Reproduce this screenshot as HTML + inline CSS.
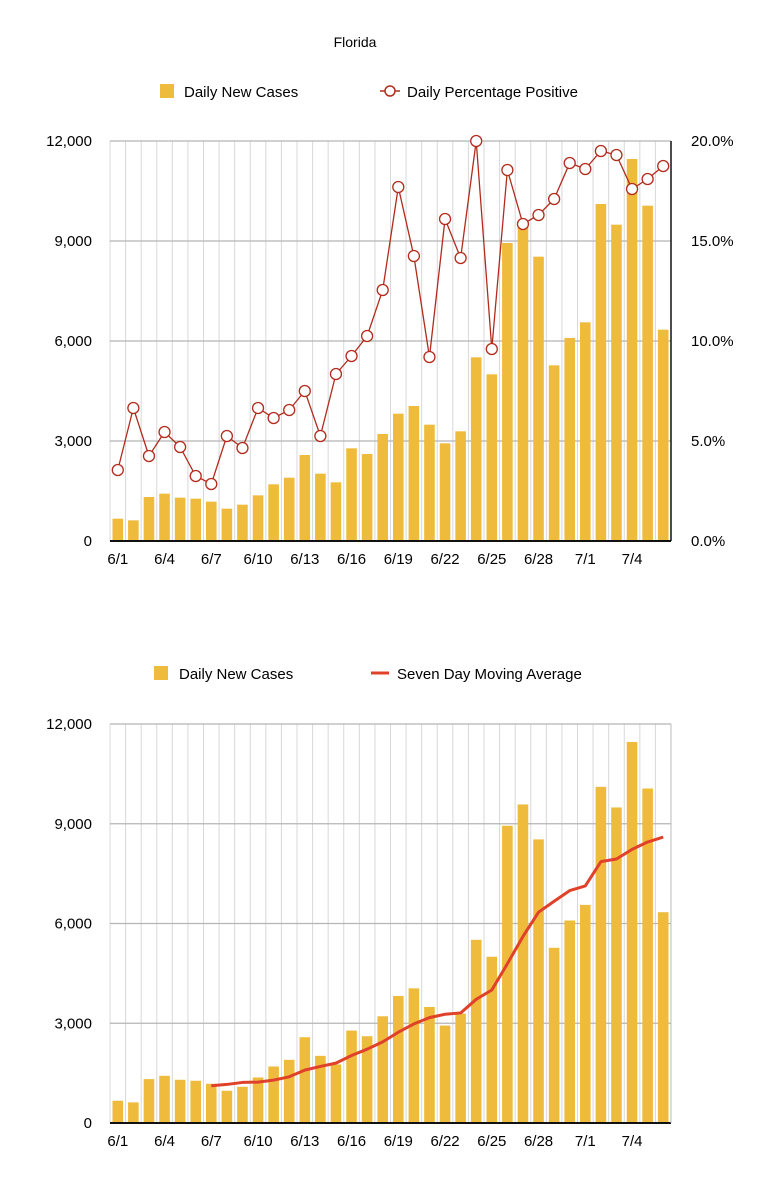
<!DOCTYPE html>
<html><head><meta charset="utf-8"><style>
body{margin:0;background:#fff;}
svg{display:block;font-family:"Liberation Sans",sans-serif;}
</style></head><body>
<svg id="svg" width="769" height="1200" viewBox="0 0 769 1200">
<text x="355" y="47" font-size="14" text-anchor="middle">Florida</text>
<g>
<rect x="160" y="84" width="14" height="14" fill="#efbb3c"/>
<text x="184" y="97" font-size="15">Daily New Cases</text>
<line x1="380" y1="91" x2="400" y2="91" stroke="#b22b1d" stroke-width="1.5"/>
<circle cx="390" cy="91" r="5" fill="#fff" stroke="#b22b1d" stroke-width="1.5"/>
<text x="407" y="97" font-size="15">Daily Percentage Positive</text>
</g>
<g>
<rect x="154" y="666" width="14" height="14" fill="#efbb3c"/>
<text x="179" y="679" font-size="15">Daily New Cases</text>
<line x1="371" y1="673" x2="389" y2="673" stroke="#e0412a" stroke-width="3"/>
<text x="397" y="679" font-size="15">Seven Day Moving Average</text>
</g>
</svg>
<script>
const dates=["6/1","6/2","6/3","6/4","6/5","6/6","6/7","6/8","6/9","6/10","6/11","6/12","6/13","6/14","6/15","6/16","6/17","6/18","6/19","6/20","6/21","6/22","6/23","6/24","6/25","6/26","6/27","6/28","6/29","6/30","7/1","7/2","7/3","7/4","7/5","7/6"];
const cases=[670,620,1320,1420,1300,1270,1180,970,1090,1370,1700,1900,2580,2020,1760,2780,2610,3210,3820,4050,3490,2930,3290,5510,5000,8940,9580,8530,5270,6090,6560,10110,9490,11460,10060,6340];
const positivePct=[3.55,6.65,4.25,5.45,4.7,3.25,2.85,5.25,4.65,6.65,6.15,6.55,7.5,5.25,8.35,9.25,10.25,12.55,17.7,14.25,9.2,16.1,14.15,20,9.6,18.55,15.85,16.3,17.1,18.9,18.6,19.5,19.3,17.6,18.1,18.75];
const avgStart=6;
const movingAvg=[1120,1160,1220,1230,1290,1390,1590,1700,1800,2030,2220,2440,2730,2980,3170,3270,3310,3720,4000,4790,5610,6340,6670,6990,7130,7860,7940,8230,8450,8600];
const leftTicks=[0,3000,6000,9000,12000];
const leftTickLabels=["0","3,000","6,000","9,000","12,000"];
const rightTicks=[0,5,10,15,20];
const rightTickLabels=["0.0%","5.0%","10.0%","15.0%","20.0%"];
const xLabelEvery=3;

const svg=document.getElementById('svg');
const NS="http://www.w3.org/2000/svg";
function mk(tag,attrs,parent){const e=document.createElementNS(NS,tag);for(const k in attrs)e.setAttribute(k,attrs[k]);(parent||svg).appendChild(e);return e;}
const X0=110,X1=671,slot=(X1-X0)/dates.length;
function xC(i){return X0+slot*(i+0.5);}

function chart(top,bottom,withPct,prefix){
  const g=mk('g',{});
  
  
  const yL=v=>bottom-(v/12000)*(bottom-top);
  const yR=v=>bottom-(v/20)*(bottom-top);
  for(let i=0;i<=dates.length;i++){
    const l=mk('line',{x1:X0+slot*i,x2:X0+slot*i,y1:top,y2:bottom,stroke:'#d8d8d8','stroke-width':1},g);
    
    
  }
  leftTicks.forEach((t,i)=>{
    const y=yL(t);
    if(t>0){const l=mk('line',{x1:X0,x2:X1,y1:y,y2:y,stroke:'#b5b5b5','stroke-width':1.2},g);
      
      }
    const tx=mk('text',{x:92,y:y+5,'font-size':15,'text-anchor':'end'},g);tx.textContent=leftTickLabels[i];
    
    
  });
  if(withPct){rightTicks.forEach((t,i)=>{
    const tx=mk('text',{x:691,y:yR(t)+5,'font-size':15},g);tx.textContent=rightTickLabels[i];
    
    
  });}
  cases.forEach((v,i)=>{
    const r=mk('rect',{x:xC(i)-5.3,width:10.6,y:yL(v),height:bottom-yL(v),fill:'#efbb3c'},g);
    
    
  });
  const ax=mk('line',{x1:X0,x2:X1,y1:bottom,y2:bottom,stroke:'#111','stroke-width':2},g);
  
  
  const ra=mk('line',{x1:X1,x2:X1,y1:top,y2:bottom,stroke:withPct?'#111':'#bbb','stroke-width':withPct?1.5:1},g);
  
  
  dates.forEach((d,i)=>{if(i%xLabelEvery===0){
    const tx=mk('text',{x:xC(i),y:bottom+23,'font-size':15,'text-anchor':'middle'},g);tx.textContent=d;
    
    }});
  if(withPct){
    const pts=positivePct.map((v,i)=>xC(i)+','+yR(v)).join(' ');
    const pl=mk('polyline',{points:pts,fill:'none',stroke:'#b22b1d','stroke-width':1.3},g);
    
    
    positivePct.forEach((v,i)=>{
      const c=mk('circle',{cx:xC(i),cy:yR(v),r:5.5,fill:'#fff',stroke:'#b22b1d','stroke-width':1.3},g);
      
      
    });
  } else {
    const pts=movingAvg.map((v,i)=>xC(i+avgStart)+','+yL(v)).join(' ');
    const pl=mk('polyline',{points:pts,fill:'none',stroke:'#e0412a','stroke-width':3,'stroke-linejoin':'round'},g);
    
    
  }
}
chart(141,541,true,'positivity');
chart(724,1123,false,'moving-average');
</script>
</body></html>
